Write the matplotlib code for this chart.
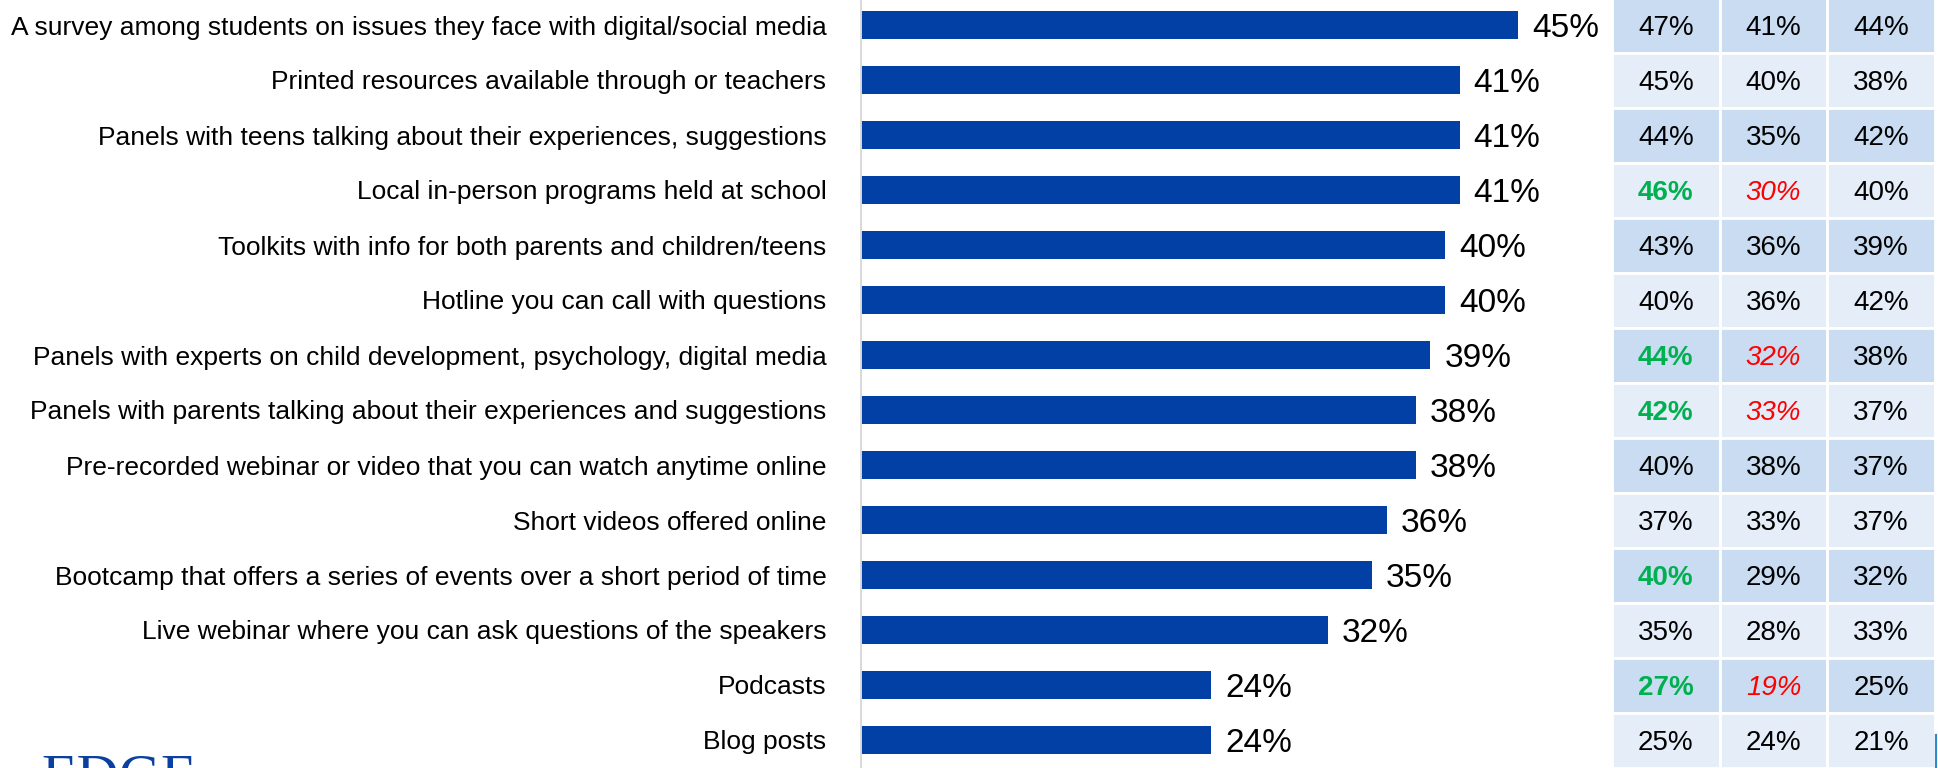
import matplotlib.pyplot as plt
from matplotlib.patches import Rectangle, Circle

# survey items and the share choosing each (total)
items = [
    "A survey among students on issues they face with digital/social media",
    "Printed resources available through or teachers",
    "Panels with teens talking about their experiences, suggestions",
    "Local in-person programs held at school",
    "Toolkits with info for both parents and children/teens",
    "Hotline you can call with questions",
    "Panels with experts on child development, psychology, digital media",
    "Panels with parents talking about their experiences and suggestions",
    "Pre-recorded webinar or video that you can watch anytime online",
    "Short videos offered online",
    "Bootcamp that offers a series of events over a short period of time",
    "Live webinar where you can ask questions of the speakers",
    "Podcasts",
    "Blog posts",
]
total = [45, 41, 41, 41, 40, 40, 39, 38, 38, 36, 35, 32, 24, 24]

# subgroup breakdown shown in the table on the right
group_a = [47, 45, 44, 46, 43, 40, 44, 42, 40, 37, 40, 35, 27, 25]
group_b = [41, 40, 35, 30, 36, 36, 32, 33, 38, 33, 29, 28, 19, 24]
group_c = [44, 38, 42, 40, 39, 42, 38, 37, 37, 37, 32, 33, 25, 21]

# significantly higher / lower than total
flags_a = ["", "", "", "hi", "", "", "hi", "hi", "", "", "hi", "", "hi", ""]
flags_b = ["", "", "", "lo", "", "", "lo", "lo", "", "", "", "", "lo", ""]
flags_c = [""] * 14

BAR = "#0340A6"
DARK_CELL = "#C9DCF1"
LIGHT_CELL = "#E4EDF8"

plt.rcParams['font.family'] = ['Liberation Sans', 'DejaVu Sans']

W, H = 1938, 768
fig = plt.figure(figsize=(W / 100, H / 100), dpi=100)

n = len(items)
row0, pitch = 25, 55          # pixel centre of first row, row spacing
ytop = -row0 / pitch
ybot = (H - row0) / pitch

# --- bar chart
ax_left, ax_right = 861, 1613
ax = fig.add_axes([ax_left / W, 0, (ax_right - ax_left) / W, 1])
pos = list(range(n))
ax.barh(pos, total, height=0.51, color=BAR)
ax.set_xlim(0, (ax_right - ax_left) / 14.6)
ax.set_ylim(ybot, ytop)
ax.set_yticks(pos)
ax.set_yticklabels(items, fontsize=19, va='center_baseline')
ax.tick_params(axis='y', length=0, pad=25)
ax.set_xticks([])
for s in ['top', 'right', 'bottom']:
    ax.spines[s].set_visible(False)
ax.spines['left'].set_color('#D9D9D9')
ax.spines['left'].set_linewidth(1.4)
ax.patch.set_alpha(0)

for p, v in zip(pos, total):
    ax.annotate(f"{v}%", (v, p), xytext=(10, 0), textcoords='offset points',
                va='center_baseline', ha='left', fontsize=24)

# --- breakdown table
tb_left, tb_right = 1612, 1935
tb = fig.add_axes([tb_left / W, 0, (tb_right - tb_left) / W, 1])
tb.set_xlim(0, 3)
tb.set_ylim(ybot, ytop)
tb.axis('off')

for col, (vals, flags) in enumerate([(group_a, flags_a), (group_b, flags_b), (group_c, flags_c)]):
    for r in range(n):
        face = DARK_CELL if r % 2 == 0 else LIGHT_CELL
        tb.add_patch(Rectangle((col, r - 0.5), 1, 1, facecolor=face,
                               edgecolor='white', linewidth=2))
        kw = dict(color='black')
        if flags[r] == "hi":
            kw = dict(color='#00B050', fontweight='bold')
        elif flags[r] == "lo":
            kw = dict(color='#FF0000', fontstyle='italic')
        tb.text(col + 0.5, r, f"{vals[r]}%", ha='center', va='center_baseline',
                fontsize=20, **kw)

# --- logo peeking in at the bottom left
fig.patches.append(Circle((9 / W, -6 / H), 15 / W, transform=fig.transFigure,
                          facecolor='#9DC3E6', edgecolor='none'))
fig.text(41 / W, -25 / H, "EDGE", fontsize=42, family='Liberation Serif',
         color='#0B3FA0', ha='left', va='baseline')
fig.add_artist(plt.Line2D([1935.5 / W, 1935.5 / W], [0, 33 / H],
                          transform=fig.transFigure, color='#2E8BC8', linewidth=1.6))

fig.savefig('out.png', dpi=100)
